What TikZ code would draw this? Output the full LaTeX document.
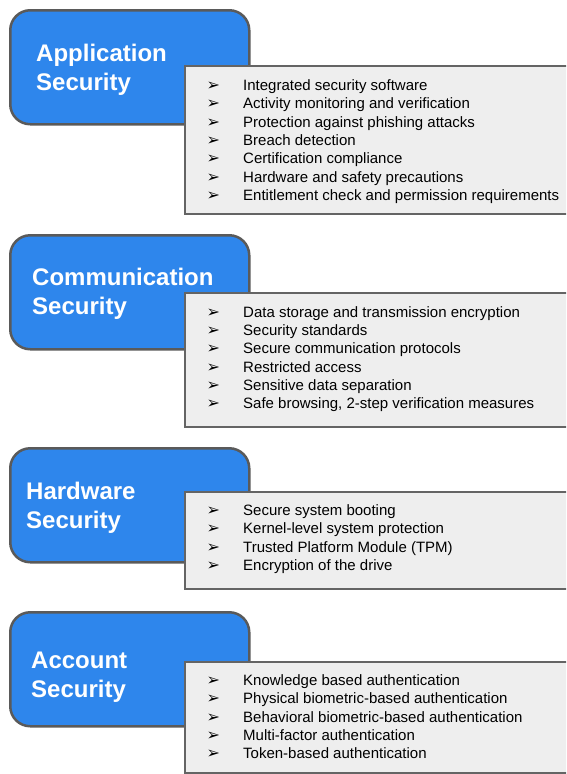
\documentclass[tikz,border=0pt]{standalone}
\usepackage{fontspec}
\setmainfont{Liberation Sans}
\newfontfamily\symfont{DejaVu Sans}
\usetikzlibrary{calc,positioning}

\definecolor{secblue}{RGB}{46,134,236}
\definecolor{secedge}{RGB}{90,90,90}
\definecolor{listfill}{RGB}{238,238,238}
\definecolor{listedge}{RGB}{100,100,100}

% one bullet of a list: arrow head, then the text
\newcommand{\itm}{\makebox[36.5pt][l]{\fontsize{16}{18.33}\symfont ➢}}

\begin{document}
\begin{tikzpicture}[
    x=1pt, y=-1pt,
    secbox/.style={rectangle, rounded corners=20pt, fill=secblue,
      draw=secedge, line width=2.5pt, minimum width=239pt,
      minimum height=114pt, anchor=north west},
    title/.style={text=white, font=\fontsize{24}{29}\selectfont\bfseries,
      align=left, inner sep=0pt, anchor=base west},
    listbox/.style={rectangle, fill=listfill, draw=listedge,
      line width=2pt, minimum width=390pt, anchor=north west},
    items/.style={font=\fontsize{15}{18.33}\selectfont, align=left,
      inner sep=0pt, anchor=base west}
  ]

  \useasboundingbox (0,0) rectangle (566,774);
  \clip (0,0) rectangle (566,774);

  % application security (texts placed by the baseline of their last line)

  \node (appbox)   [secbox]                      at (9,9)     {};
  \node (apptitle) [title]                       at (36,90.5) {Application\\
                                                                Security};
  \node (applist)  [listbox, minimum height=148pt] at (184,65) {};
  \node (appitems) [items]                       at (206.5,200.5) {\itm Integrated security software\\
                                                                  \itm Activity monitoring and verification\\
                                                                  \itm Protection against phishing attacks\\
                                                                  \itm Breach detection\\
                                                                  \itm Certification compliance\\
                                                                  \itm Hardware and safety precautions\\
                                                                  \itm Entitlement check and permission requirements};

  % communication security

  \node (combox)   [secbox]                      at (9,234)   {};
  \node (comtitle) [title]                       at (32,314)  {Communication\\
                                                                Security};
  \node (comlist)  [listbox, minimum height=134pt] at (184,292) {};
  \node (comitems) [items]                       at (206.5,408.7) {\itm Data storage and transmission encryption\\
                                                                  \itm Security standards\\
                                                                  \itm Secure communication protocols\\
                                                                  \itm Restricted access\\
                                                                  \itm Sensitive data separation\\
                                                                  \itm Safe browsing, 2-step verification measures};

  % hardware security

  \node (hwbox)    [secbox]                      at (9,447)   {};
  \node (hwtitle)  [title]                       at (26,528.5) {Hardware\\
                                                                Security};
  \node (hwlist)   [listbox, minimum height=97pt] at (184,491) {};
  \node (hwitems)  [items]                       at (206.5,570.5) {\itm Secure system booting\\
                                                                  \itm Kernel-level system protection\\
                                                                  \itm Trusted Platform Module (TPM)\\
                                                                  \itm Encryption of the drive};

  % account security

  \node (accbox)   [secbox]                      at (9,611)   {};
  \node (acctitle) [title]                       at (31,697)  {Account\\
                                                                Security};
  \node (acclist)  [listbox, minimum height=111pt] at (184,661) {};
  \node (accitems) [items]                       at (206.5,758.8) {\itm Knowledge based authentication\\
                                                                  \itm Physical biometric-based authentication\\
                                                                  \itm Behavioral biometric-based authentication\\
                                                                  \itm Multi-factor authentication\\
                                                                  \itm Token-based authentication};

\end{tikzpicture}
\end{document}
